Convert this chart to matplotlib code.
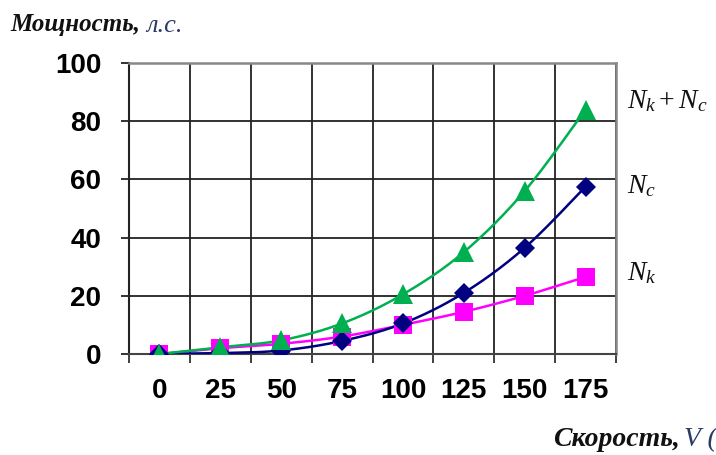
import numpy as np
import matplotlib
matplotlib.use("Agg")
import matplotlib.pyplot as plt

plt.rcParams['mathtext.fontset'] = 'custom'
plt.rcParams['mathtext.it'] = 'Liberation Serif:italic'
plt.rcParams['mathtext.rm'] = 'Liberation Serif'

# Data
speeds = ["0", "25", "50", "75", "100", "125", "150", "175"]
N_k = [0, 2.0, 3.5, 6.0, 10.0, 14.5, 20.0, 26.5]
N_c = [0, 0.3, 1.2, 4.5, 10.5, 21.0, 36.5, 57.5]
N_sum = [0, 2.3, 4.7, 10.5, 20.5, 35.0, 56.0, 84.0]
y_ticks = [0, 20, 40, 60, 80, 100]

def smooth(x, y, n=30):
    x = np.asarray(x, float); y = np.asarray(y, float)
    P = np.column_stack([x, y])
    out = []
    for i in range(len(P) - 1):
        p0 = P[i - 1] if i > 0 else P[i]
        p1 = P[i]; p2 = P[i + 1]
        p3 = P[i + 2] if i + 2 < len(P) else P[i + 1]
        c1 = p1 + (p2 - p0) / 6.0
        c2 = p2 - (p3 - p1) / 6.0
        t = np.linspace(0, 1, n)[:, None]
        seg = ((1 - t) ** 3) * p1 + 3 * ((1 - t) ** 2) * t * c1 + 3 * (1 - t) * t ** 2 * c2 + t ** 3 * p2
        out.append(seg if i == 0 else seg[1:])
    S = np.vstack(out)
    return S[:, 0], S[:, 1]

fig = plt.figure(figsize=(7.16, 4.55), dpi=100)
ax = fig.add_axes([129/716, 1 - 354/455, (616-129)/716, (354-63)/455])

x = np.arange(len(speeds))

series = [
    (N_k, '#FF00FF', 's', 13.5),
    (N_c, '#000080', 'D', 10.5),
    (N_sum, '#00B050', '^', 14),
]
for vals, col, mk, ms in series:
    sx, sy = smooth(x, vals)
    ax.plot(sx, sy, color=col, lw=1.8, zorder=3)
for vals, col, mk, ms in series:
    ax.plot(x, vals, linestyle='none', marker=mk, color=col, markersize=ms,
            markeredgewidth=0, zorder=4)

ax.set_xlim(-0.5, len(speeds) - 0.5)
ax.set_ylim(0, 100)

ax.set_xticks(x)
ax.set_xticklabels(speeds)
ax.set_xticks(np.arange(len(speeds) + 1) - 0.5, minor=True)
ax.set_yticks(y_ticks)
ax.set_yticklabels([str(v) for v in y_ticks])

for lab in ax.get_xticklabels() + ax.get_yticklabels():
    lab.set_fontfamily('Liberation Sans')
    lab.set_fontweight('bold')
    lab.set_fontsize(20)

ax.tick_params(axis='x', which='major', length=0, pad=17)
ax.tick_params(axis='x', which='minor', length=6.5, width=1.3, color='#333333', direction='out')
ax.tick_params(axis='y', which='major', length=6, width=1.3, color='#222222', pad=14, direction='out')

ax.grid(True, which='minor', axis='x', color='#222222', lw=1.3)
ax.grid(True, which='major', axis='y', color='#222222', lw=1.3)
ax.set_axisbelow(True)

ax.spines['left'].set_color('#222222'); ax.spines['left'].set_linewidth(1.5)
ax.spines['bottom'].set_color('#444444'); ax.spines['bottom'].set_linewidth(1.5)
ax.spines['top'].set_color('#888888'); ax.spines['top'].set_linewidth(1.8)
ax.spines['right'].set_color('#888888'); ax.spines['right'].set_linewidth(1.8)

# Titles
fig.text(10/716, 1 - 25/455, 'Мощность,', fontfamily='Liberation Serif', fontweight='bold',
         fontstyle='italic', fontsize=18, va='center', ha='left', color='#111111')
fig.text(146/716, 1 - 26/455, 'л.с.', fontfamily='Liberation Serif',
         fontstyle='italic', fontsize=19, va='center', ha='left', color='#2B3A67')
fig.text(553/716, 1 - 440/455, 'Скорость,', fontfamily='Liberation Serif', fontweight='bold',
         fontstyle='italic', fontsize=20, va='center', ha='left', color='#111111')
fig.text(684/716, 1 - 440/455, 'V (', fontfamily='Liberation Serif',
         fontstyle='italic', fontsize=20, va='center', ha='left', color='#2B3A67')

# Series labels
fig.text(627/716, 1 - 100/455, r'$N_k+N_c$', fontsize=20, va='center', ha='left', color='#111111')
fig.text(627/716, 1 - 185/455, r'$N_c$', fontsize=20, va='center', ha='left', color='#111111')
fig.text(627/716, 1 - 272/455, r'$N_k$', fontsize=20, va='center', ha='left', color='#111111')

fig.savefig('out.png', dpi=100)
